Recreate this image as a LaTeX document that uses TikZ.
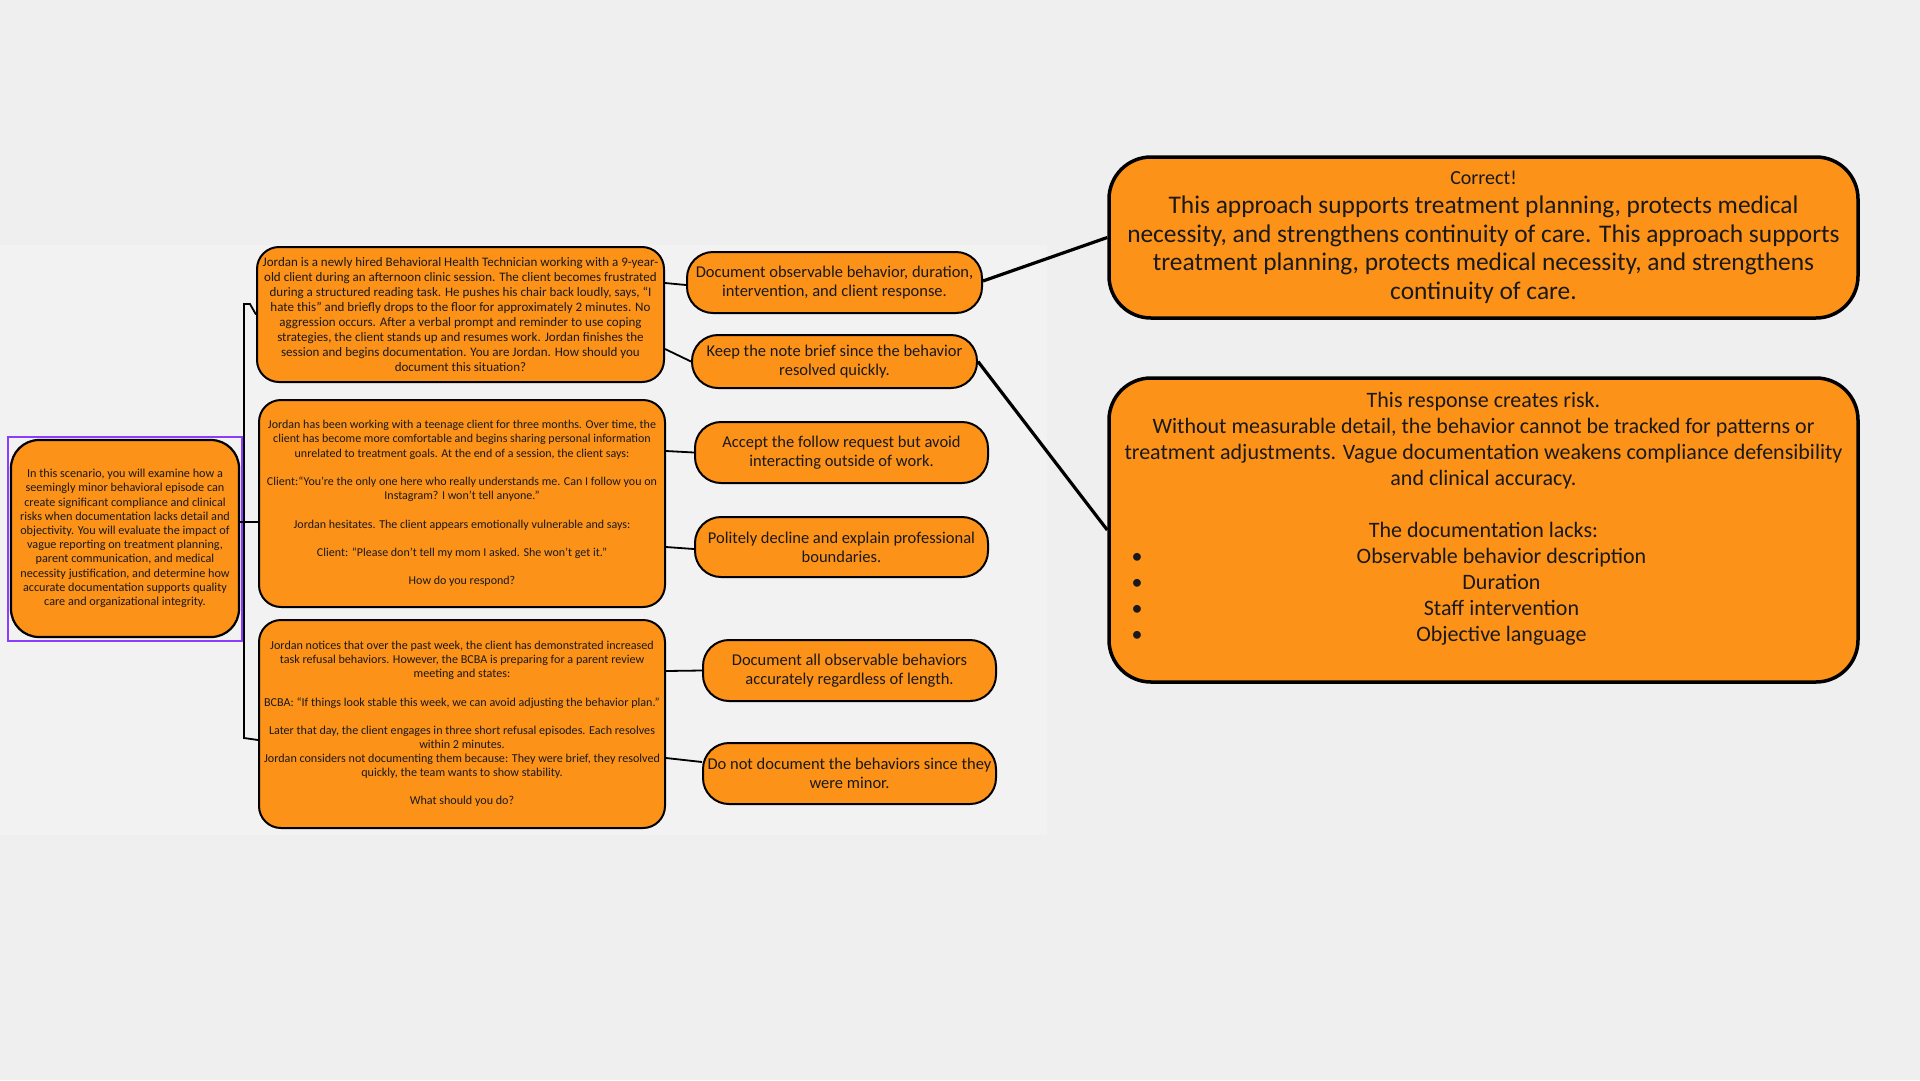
\documentclass[tikz,border=0pt]{standalone}
\usepackage{fontspec}
\setmainfont{Carlito}
\usetikzlibrary{calc}
\definecolor{bgout}{RGB}{239,239,239}
\definecolor{bgin}{RGB}{242,242,242}
\definecolor{org}{RGB}{253,146,24}
\definecolor{sel}{RGB}{139,61,255}
\definecolor{ink}{RGB}{25,25,25}
\begin{document}
\begin{tikzpicture}[x=1pt,y=-1pt,
  basebox/.style={draw=black, fill=org, inner sep=0pt, align=center, text=ink},
  leftbox/.style={basebox, line width=2.2pt, rounded corners=28pt, font=\fontsize{12.2}{14.2}\selectfont},
  scenbox/.style={basebox, line width=2pt, rounded corners=22pt},
  optbox/.style={basebox, line width=2pt, rounded corners=26pt, font=\fontsize{16.5}{19}\selectfont},
  resbox/.style={basebox, line width=3.5pt, rounded corners=42pt},
  thin/.style={draw=black, line width=1.8pt},
  thick/.style={draw=black, line width=3.2pt},
  selbox/.style={draw=sel, line width=1.6pt}
]
\useasboundingbox (0,0) rectangle (1920,1080);
\fill[bgout] (0,0) rectangle (1920,1080);
\fill[bgin] (0,245) rectangle (1047,835);

% left intro node
\node[leftbox, minimum width=228pt, minimum height=197pt] (intro) at (125,538.5) {In this scenario, you will examine how a\\
seemingly minor behavioral episode can\\
create significant compliance and clinical\\
risks when documentation lacks detail and\\
objectivity. You will evaluate the impact of\\
vague reporting on treatment planning,\\
parent communication, and medical\\
necessity justification, and determine how\\
accurate documentation supports quality\\
care and organizational integrity.};
\draw[selbox] ([xshift=-2pt,yshift=2pt]intro.north west) rectangle ([xshift=2pt,yshift=-3pt]intro.south east);

% scenarios
\node[scenbox, minimum width=407pt, minimum height=135pt, font=\fontsize{13}{15}\selectfont] (s1) at (460.5,314.5) {Jordan is a newly hired Behavioral Health Technician working with a 9-year-\\
old client during an afternoon clinic session. The client becomes frustrated\\
during a structured reading task. He pushes his chair back loudly, says, “I\\
hate this” and briefly drops to the floor for approximately 2 minutes. No\\
aggression occurs. After a verbal prompt and reminder to use coping\\
strategies, the client stands up and resumes work. Jordan finishes the\\
session and begins documentation. You are Jordan. How should you\\
document this situation?};

\node[scenbox, minimum width=406pt, minimum height=207pt, font=\fontsize{12}{14.2}\selectfont] (s2) at (462,503.5) {Jordan has been working with a teenage client for three months. Over time, the\\
client has become more comfortable and begins sharing personal information\\
unrelated to treatment goals. At the end of a session, the client says:\\
\mbox{}\\
Client:“You’re the only one here who really understands me. Can I follow you on\\
Instagram? I won’t tell anyone.”\\
\mbox{}\\
Jordan hesitates. The client appears emotionally vulnerable and says:\\
\mbox{}\\
Client: “Please don’t tell my mom I asked. She won’t get it.”\\
\mbox{}\\
How do you respond?};

\node[scenbox, minimum width=406pt, minimum height=208pt, font=\fontsize{12.1}{14.1}\selectfont] (s3) at (462,724) {Jordan notices that over the past week, the client has demonstrated increased\\
task refusal behaviors. However, the BCBA is preparing for a parent review\\
meeting and states:\\
\mbox{}\\
BCBA: “If things look stable this week, we can avoid adjusting the behavior plan.”\\
\mbox{}\\
Later that day, the client engages in three short refusal episodes. Each resolves\\
within 2 minutes.\\
Jordan considers not documenting them because: They were brief, they resolved\\
quickly, the team wants to show stability.\\
\mbox{}\\
What should you do?};

% options
\node[optbox, minimum width=295pt, minimum height=61pt] (o1a) at (834.5,282.5) {Document observable behavior, duration,\\ intervention, and client response.};
\node[optbox, minimum width=285pt, minimum height=53pt] (o1b) at (834.5,361.5) {Keep the note brief since the behavior\\ resolved quickly.};
\node[optbox, minimum width=293pt, minimum height=61pt] (o2a) at (841.5,452.5) {Accept the follow request but avoid\\ interacting outside of work.};
\node[optbox, minimum width=293pt, minimum height=60pt] (o2b) at (841.5,547) {Politely decline and explain professional\\ boundaries.};
\node[optbox, minimum width=293pt, minimum height=61pt] (o3a) at (849.5,670.5) {Document all observable behaviors\\ accurately regardless of length.};
\node[optbox, minimum width=293pt, minimum height=61pt] (o3b) at (849.5,773.5) {Do not document the behaviors since they\\ were minor.};

% results
\node[resbox, minimum width=749pt, minimum height=161pt, font=\fontsize{25.4}{28.7}\selectfont] (rt) at (1483.5,237.5) {{\fontsize{20}{28.7}\selectfont Correct!}\\
This approach supports treatment planning, protects medical\\
necessity, and strengthens continuity of care. This approach supports\\
treatment planning, protects medical necessity, and strengthens\\
continuity of care.};

\node[resbox, minimum width=749pt, minimum height=304pt, font=\fontsize{22}{26}\selectfont] (rb) at (1483.5,530) {This response creates risk.\\
Without measurable detail, the behavior cannot be tracked for patterns or\\
treatment adjustments. Vague documentation weakens compliance defensibility\\
and clinical accuracy.\\
\mbox{}\\
The documentation lacks:\\
\makebox[730pt][l]{\hspace{13pt}•\hspace{12pt}\hfill Observable behavior description\hfill}\\
\makebox[730pt][l]{\hspace{13pt}•\hspace{12pt}\hfill Duration\hfill}\\
\makebox[730pt][l]{\hspace{13pt}•\hspace{12pt}\hfill Staff intervention\hfill}\\
\makebox[730pt][l]{\hspace{13pt}•\hspace{12pt}\hfill Objective language\hfill}\\
\mbox{}};

% bracket from intro to scenarios
\coordinate (jm) at (244,522);
\coordinate (jt) at (244,304);
\coordinate (jk) at (250,304);
\coordinate (jb) at (244,738);
\draw[thin] ([yshift=16.5pt]intro.east) -- ([yshift=-18.5pt]s2.west);
\draw[thin, line join=miter] (s1.west) -- (jk) -- (jt) -- (jb) -- ([yshift=-16pt]s3.west);

% scenario to options
\draw[thin] ([yshift=31.5pt]s1.east) -- ([yshift=-2.5pt]o1a.west);
\draw[thin] ([yshift=-34.5pt]s1.east) -- (o1b.west);
\draw[thin] ([yshift=52.5pt]s2.east) -- (o2a.west);
\draw[thin] ([yshift=-43.5pt]s2.east) -- ([yshift=-2pt]o2b.west);
\draw[thin] ([yshift=53pt]s3.east) -- (o3a.west);
\draw[thin] ([yshift=-34pt]s3.east) -- ([yshift=11.5pt]o3b.west);

% options to results
\draw[thick] ([yshift=1.5pt]o1a.east) -- (rt.west);
\draw[thick] (o1b.east) -- (rb.west);
\end{tikzpicture}
\end{document}
